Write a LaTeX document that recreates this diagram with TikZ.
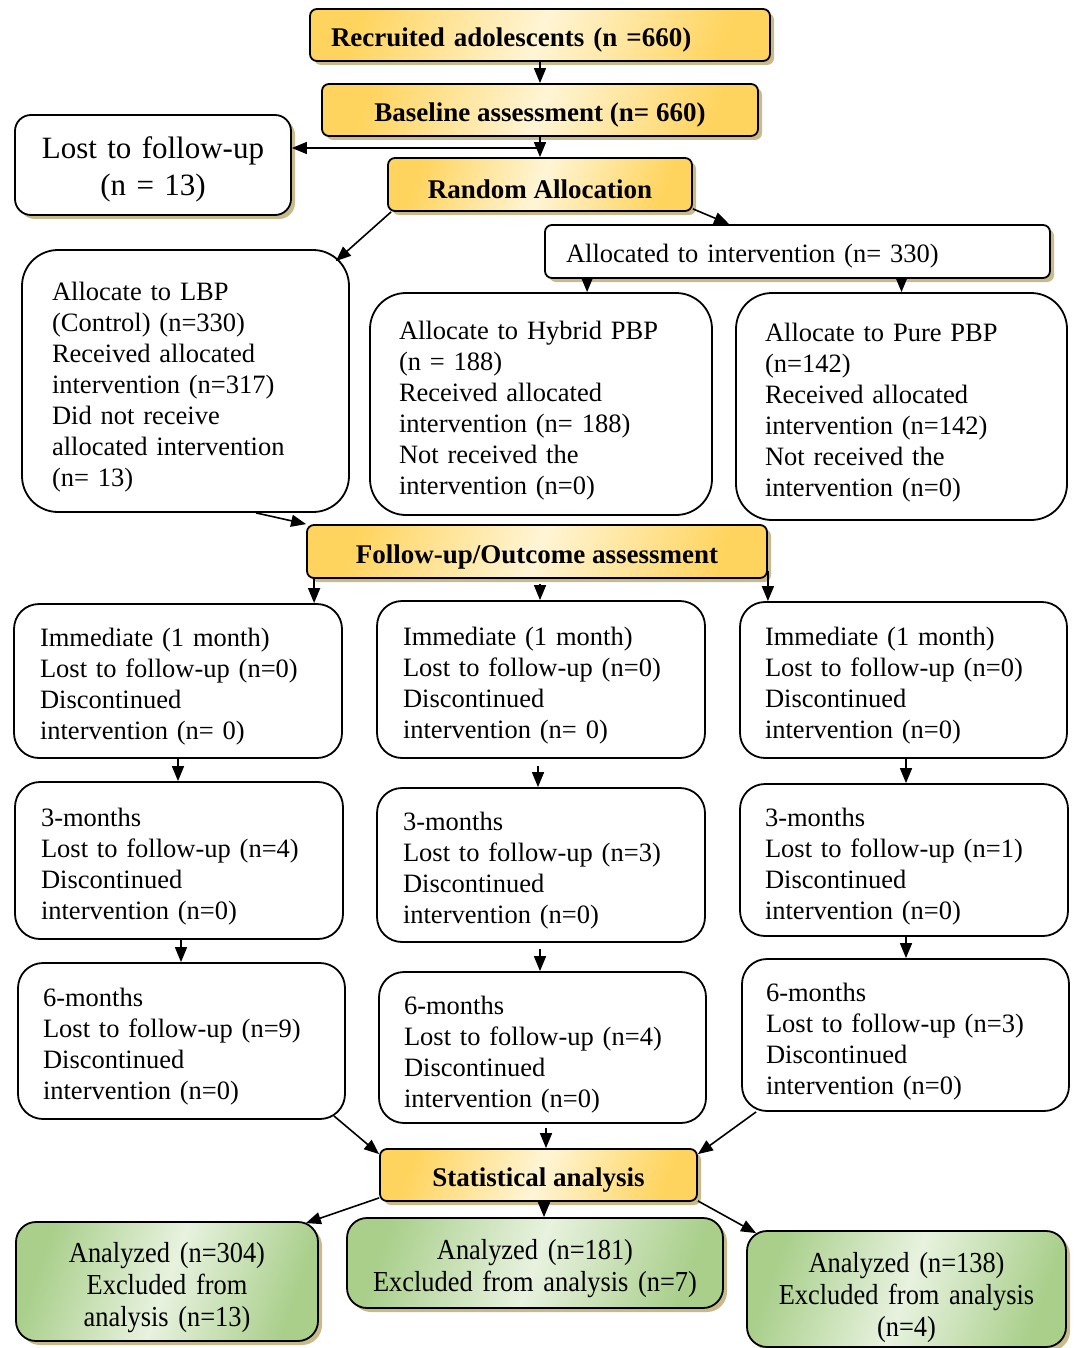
\documentclass[tikz,border=0pt]{standalone}
\usepackage{fontspec}
\setmainfont{Liberation Serif}
\newfontfamily\condfont[FakeStretch=0.91]{Liberation Serif}
\usetikzlibrary{shadows,arrows.meta,calc}
\definecolor{yelldark}{HTML}{FFD45E}
\definecolor{yelllight}{HTML}{FFF5D6}
\definecolor{grdark}{HTML}{A9CF8B}
\definecolor{grlight}{HTML}{E8F2DF}
\definecolor{shadowc}{HTML}{C9BA8E}
\tikzset{
  tshift/.style={execute at begin node={\rule{0pt}{#1}}},
  boxbase/.style={draw, line width=1.8pt, inner ysep=0pt},
  shad/.style={drop shadow={shadow xshift=4pt, shadow yshift=-4pt, fill=shadowc, opacity=1}},
  ybox/.style={boxbase, rounded corners=7pt, shad, left color=yelldark, right color=yelldark,
    middle color=yelllight, shading angle=70, align=center, tshift=29pt,
    font=\fontsize{27}{31}\selectfont\bfseries},
  gbox/.style={boxbase, rounded corners=20pt, shad, left color=grdark, right color=grdark,
    middle color=grlight, shading angle=70, align=center, tshift=32pt,
    font=\condfont\fontsize{29}{32}\selectfont},
  wbox/.style={boxbase, fill=white, rounded corners=25pt, align=left, tshift=30pt,
    font=\fontsize{26.5}{31}\selectfont},
  bigbox/.style={wbox, rounded corners=36pt},
  arr/.style={line width=1.6pt, -{Triangle[length=15pt,width=12pt]}},
}
\begin{document}
\begin{tikzpicture}[x=1pt,y=-1pt]
\useasboundingbox[fill=white] (0,0) rectangle (1073,1348);

% top chain
\node[ybox, align=left, inner xsep=21pt, text width=418pt, minimum height=52pt] (rec) at (540,35) {Recruited adolescents (n =660)};
\node[ybox, minimum width=436pt, minimum height=52pt] (base) at (540,110) {Baseline assessment (n= 660)};
\node[ybox, tshift=0pt, minimum width=304pt, minimum height=53pt] (rand) at (540,184.5) {Random Allocation};
\node[boxbase, fill=white, rounded corners=16pt, shad, align=center, inner xsep=10pt, text width=256pt, minimum height=100pt,
  tshift=30pt, font=\fontsize{31}{37}\selectfont] (lost) at (153,165) {Lost to follow-up\\(n = 13)};
\node[boxbase, fill=white, rounded corners=7pt, shad, align=left, inner xsep=21pt, text width=463pt,
  minimum height=53pt, tshift=28pt, font=\fontsize{26.5}{31}\selectfont] (alloc) at (797.5,251.5) {Allocated to intervention (n= 330)};

% allocation boxes
\node[bigbox, tshift=0pt, inner xsep=30pt, text width=267pt, minimum height=262pt] (lbp) at (185.5,381)
  {Allocate to LBP\\(Control) (n=330)\\Received allocated\\intervention (n=317)\\Did not receive\\allocated intervention\\(n= 13)};
\node[bigbox, tshift=31pt, inner xsep=29pt, text width=284pt, minimum height=222pt] (hyb) at (541,404)
  {Allocate to Hybrid PBP\\(n = 188)\\Received allocated\\intervention (n= 188)\\Not received the\\intervention (n=0)};
\node[bigbox, tshift=0pt, inner xsep=29pt, text width=273pt, minimum height=227pt] (pure) at (901.5,406.5)
  {Allocate to Pure PBP\\(n=142)\\Received allocated\\intervention (n=142)\\Not received the\\intervention (n=0)};

\node[ybox, minimum width=460pt, minimum height=53pt] (fu) at (537,551.5) {Follow-up/Outcome assessment};

% immediate
\node[wbox, inner xsep=26pt, text width=276pt, minimum height=154pt] (imL) at (178,681)
  {Immediate (1 month)\\Lost to follow-up (n=0)\\Discontinued\\intervention (n= 0)};
\node[wbox, tshift=23pt, inner xsep=26pt, text width=276pt, minimum height=157pt] (imM) at (541,679.5)
  {Immediate (1 month)\\Lost to follow-up (n=0)\\Discontinued\\intervention (n= 0)};
\node[wbox, inner xsep=25pt, text width=277pt, minimum height=156pt] (imR) at (903.5,680)
  {Immediate (1 month)\\Lost to follow-up (n=0)\\Discontinued\\intervention (n=0)};

% 3 months
\node[wbox, inner xsep=26pt, text width=276pt, minimum height=157pt] (tmL) at (179,860.5)
  {3-months\\Lost to follow-up (n=4)\\Discontinued\\intervention (n=0)};
\node[wbox, inner xsep=26pt, text width=276pt, minimum height=154pt] (tmM) at (541,865)
  {3-months\\Lost to follow-up (n=3)\\Discontinued\\intervention (n=0)};
\node[wbox, tshift=32pt, inner xsep=25pt, text width=278pt, minimum height=152pt] (tmR) at (904,860)
  {3-months\\Lost to follow-up (n=1)\\Discontinued\\intervention (n=0)};

% 6 months
\node[wbox, inner xsep=25pt, text width=277pt, minimum height=156pt] (smL) at (181.5,1041)
  {6-months\\Lost to follow-up (n=9)\\Discontinued\\intervention (n=0)};
\node[wbox, tshift=32pt, inner xsep=25pt, text width=277pt, minimum height=151pt] (smM) at (542.5,1047.5)
  {6-months\\Lost to follow-up (n=4)\\Discontinued\\intervention (n=0)};
\node[wbox, tshift=32pt, inner xsep=24pt, text width=279pt, minimum height=152pt] (smR) at (905.5,1035)
  {6-months\\Lost to follow-up (n=3)\\Discontinued\\intervention (n=0)};

\node[ybox, minimum width=317pt, minimum height=52pt] (st) at (538.5,1175) {Statistical analysis};

% analyzed
\node[gbox, inner xsep=8pt, text width=286pt, minimum height=119pt] (anL) at (167,1281.5)
  {Analyzed (n=304)\\Excluded from\\analysis (n=13)};
\node[gbox, tshift=28pt, inner xsep=8pt, text width=360pt, minimum height=90pt] (anM) at (535,1263)
  {Analyzed (n=181)\\Excluded from analysis (n=7)};
\node[gbox, tshift=38pt, inner xsep=8pt, text width=303pt, minimum height=116pt] (anR) at (906.5,1289)
  {Analyzed (n=138)\\Excluded from analysis\\(n=4)};

% connectors
\draw[arr] (rec.south) -- (base.north);
\draw[arr] (base.south) -- (rand.north);
\coordinate (j) at ($(base.south)!0.55!(rand.north)$);
\draw[arr] (j) -- (j -| lost.east);
\draw[arr] ([xshift=4pt]rand.south west) -- ([xshift=-14pt,yshift=-12pt]lbp.north east);
\draw[arr] ([yshift=3pt]rand.south east) -- ([xshift=185pt]alloc.north west);
\draw[arr] ([xshift=43pt]alloc.south west) -- ([xshift=43pt]alloc.south west |- hyb.north);
\draw[arr] (pure.north |- alloc.south) -- (pure.north);
\draw[arr] ([xshift=70.5pt]lbp.south) -- (fu.north west);

\draw[arr] ([xshift=8pt]fu.south west) -- ([xshift=8pt]fu.south west |- imL.north);
\draw[arr] ([xshift=3pt,yshift=-5pt]fu.south) -- ([xshift=3pt]fu.south |- imM.north);
\draw[arr] ([yshift=8pt]fu.south east) -- (fu.south east |- imR.north);

\draw[arr] (imL.south) -- (imL.south |- tmL.north);
\draw[arr] ([xshift=-3pt,yshift=-7pt]imM.south) -- ([xshift=-3pt]imM.south |- tmM.north);
\draw[arr] ([xshift=2.5pt]imR.south) -- ([xshift=2.5pt]imR.south |- tmR.north);

\draw[arr] ([xshift=2pt]tmL.south) -- ([xshift=2pt]tmL.south |- smL.north);
\draw[arr] ([xshift=-1pt,yshift=-6pt]tmM.south) -- ([xshift=-1pt]tmM.south |- smM.north);
\draw[arr] ([xshift=2pt]tmR.south) -- ([xshift=2pt]tmR.south |- smR.north);

\draw[arr] ([xshift=-12pt,yshift=4pt]smL.south east) -- ([yshift=-6pt]st.north west);
\draw[arr] ([xshift=3.5pt,yshift=-4pt]smM.south) -- ([xshift=7.5pt]st.north);
\draw[arr] ([xshift=15pt]smR.south west) -- ([yshift=-6pt]st.north east);

\draw[arr] ([yshift=4pt]st.south west) -- ([xshift=-13pt,yshift=-2pt]anL.north east);
\draw[arr] ([xshift=5.5pt]st.south) -- ([xshift=5.5pt]st.south |- anM.north);
\draw[arr] ([yshift=1pt]st.south east) -- ([xshift=10pt,yshift=-3pt]anR.north west);
\end{tikzpicture}
\end{document}
